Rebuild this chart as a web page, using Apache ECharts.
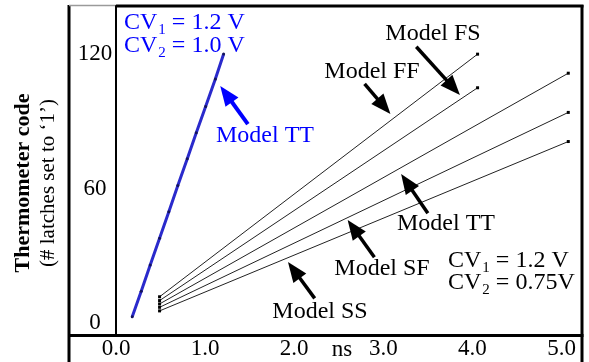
<!DOCTYPE html>
<html>
<head>
<meta charset="utf-8">
<script src="https://cdn.jsdelivr.net/npm/echarts@6.0.0/dist/echarts.min.js"></script>
<style>
  html, body { margin: 0; padding: 0; background: #fff; }
  #chart { width: 589px; height: 362px; }
</style>
</head>
<body>
<div id="chart"></div>
<script>
// --- data ---
var xTicks = [0, 1, 2, 3, 4, 5];
var yTicks = [0, 60, 120];

// blue: Model TT, CV1 = 1.2 V, CV2 = 1.0 V
var blueX = [0.182, 0.283, 0.384, 0.489, 0.593, 0.694, 0.800, 0.901, 1.006, 1.115, 1.208];
var blueY = [2.8, 14.2, 25.9, 37.8, 49.7, 61.4, 73.3, 84.9, 96.6, 108.9, 120.1];

// black: CV1 = 1.2 V, CV2 = 0.75 V (top line to bottom line)
var modelNames = ['FF', 'FS', 'TT', 'SF', 'SS'];
var modelX = [[0.489, 4.058], [0.489, 4.058], [0.489, 5.076], [0.489, 5.076], [0.489, 5.076]];
var modelY = [[11.7, 120], [10.0, 105], [8.5, 111.5], [7.0, 94], [5.4, 81]];

// arrows: [tailX, tailY, tipX, tipY] in data units
var arrowBlue = [1.48, 88.8, 1.17, 105.8];
var arrowsBlack = [
  [3.37, 123.3, 3.86, 101.8],  // FS
  [2.79, 106.7, 3.08, 93.3],   // FF
  [3.50, 49.0, 3.20, 66.5],    // TT
  [2.90, 29.3, 2.60, 46.0],    // SF
  [2.23, 11.0, 1.93, 27.2]     // SS
];

var SERIF = '"Liberation Serif", "Times New Roman", serif';
var BLUE_TXT = '#0000ff';
var BLUE_LINE = '#2a2acc';

function pairs(xs, ys) {
  return xs.map(function (x, i) { return [x, ys[i]]; });
}

var series = [{
  name: 'TT 1.0V',
  type: 'line',
  data: pairs(blueX, blueY),
  symbol: 'circle',
  symbolSize: 3,
  itemStyle: { color: '#14145a' },
  lineStyle: { color: BLUE_LINE, width: 3 },
  z: 3
}];

modelNames.forEach(function (name, i) {
  series.push({
    name: 'Model ' + name,
    type: 'line',
    data: pairs(modelX[i], modelY[i]),
    symbol: 'rect',
    symbolSize: 3,
    itemStyle: { color: '#000' },
    lineStyle: { color: '#222', width: 1 },
    z: 2
  });
});

function cvText(id, x, y, sub, rest, color) {
  var m = { fontSize: 24, fontFamily: SERIF, lineHeight: 24, verticalAlign: 'top', color: color };
  var s = { fontSize: 15, fontFamily: SERIF, lineHeight: 15, verticalAlign: 'top', padding: [12, 0, 0, 1], color: color };
  return {
    type: 'text', id: id, x: x, y: y,
    style: {
      text: '{m|CV}{s|' + sub + '}{m|' + rest + '}',
      rich: { m: m, s: s },
      fill: color,
      align: 'left',
      verticalAlign: 'top'
    }
  };
}

function label(id, x, y, txt, color, size, weight, rot) {
  return {
    type: 'text', id: id, x: x, y: y, rotation: rot || 0,
    style: {
      text: txt,
      fontSize: size,
      fontFamily: SERIF,
      fontWeight: weight || 'normal',
      fill: color,
      align: 'center',
      verticalAlign: 'middle'
    }
  };
}

function hline(id, x1, x2, y, w, c) {
  return { type: 'line', id: id, shape: { x1: x1, y1: y, x2: x2, y2: y }, style: { stroke: c || '#000', lineWidth: w } };
}
function vline(id, x, y1, y2, w, c) {
  return { type: 'line', id: id, shape: { x1: x, y1: y1, x2: x, y2: y2 }, style: { stroke: c || '#000', lineWidth: w } };
}

var graphics = [
  vline('frameL', 69, 5, 362, 3),
  hline('frameTopL', 69, 116, 5.5, 1.5, '#9a9a9a'),
  hline('frameTop', 116, 583.5, 6, 3),
  vline('frameR', 582, 5, 362, 3),
  hline('frameB', 69, 583.5, 335.5, 3),
  label('ttlBold', 23, 183, 'Thermometer code', '#000', 22, 'bold', Math.PI / 2),
  label('ttlNorm', 48, 183, '(# latches set to \u20181\u2019)', '#000', 21, 'normal', Math.PI / 2),
  label('ns', 342, 350, 'ns', '#000', 23),
  label('lblFS', 433, 34, 'Model FS', '#000', 24),
  label('lblFF', 372, 71.5, 'Model FF', '#000', 24),
  label('lblTT', 446, 224, 'Model TT', '#000', 24),
  label('lblSF', 382, 269, 'Model SF', '#000', 24),
  label('lblSS', 320, 311.5, 'Model SS', '#000', 24),
  label('lblTTb', 265, 135.5, 'Model TT', BLUE_TXT, 24),
  cvText('cvB1', 124, 10.5, '1', ' = 1.2 V', BLUE_TXT),
  cvText('cvB2', 124, 33.5, '2', ' = 1.0 V', BLUE_TXT),
  cvText('cvK1', 448, 248.5, '1', ' = 1.2 V', '#000'),
  cvText('cvK2', 448, 270.5, '2', ' = 0.75V', '#000')
];

var option = {
  animation: false,
  backgroundColor: '#fff',
  grid: { left: 116, right: 7, top: 6, bottom: 27, containLabel: false },
  xAxis: {
    type: 'value',
    min: 0,
    max: 5.23,
    axisLine: { show: false },
    axisTick: { show: false },
    splitLine: { show: false },
    axisLabel: {
      customValues: xTicks,
      margin: 2,
      color: '#000',
      fontSize: 23,
      fontFamily: SERIF,
      formatter: function (v) { return v.toFixed(1); }
    }
  },
  yAxis: {
    type: 'value',
    min: -5.36,
    max: 141.5,
    axisLine: { show: true, onZero: false, lineStyle: { color: '#000', width: 2 } },
    axisTick: { show: false },
    splitLine: { show: false },
    axisLabel: {
      customValues: yTicks,
      margin: 21,
      align: 'center',
      color: '#000',
      fontSize: 23,
      fontFamily: SERIF,
      formatter: function (v) { return String(v); }
    }
  },
  series: series,
  graphic: graphics
};

var chart = echarts.init(document.getElementById('chart'), null, { renderer: 'canvas' });
chart.setOption(option);

// arrows: convert data coords to pixels, then draw shaft + solid head
function arrowGraphics(id, a, color, width) {
  var p0 = chart.convertToPixel({ gridIndex: 0 }, [a[0], a[1]]);
  var p1 = chart.convertToPixel({ gridIndex: 0 }, [a[2], a[3]]);
  var dx = p1[0] - p0[0], dy = p1[1] - p0[1];
  var len = Math.sqrt(dx * dx + dy * dy);
  var ux = dx / len, uy = dy / len;
  var headLen = 20, headHalf = 8;
  var bx = p1[0] - ux * headLen, by = p1[1] - uy * headLen;
  return [
    { type: 'line', id: id + 's', shape: { x1: p0[0], y1: p0[1], x2: bx + ux * 2, y2: by + uy * 2 },
      style: { stroke: color, lineWidth: width }, z: 10 },
    { type: 'polygon', id: id + 'h',
      shape: { points: [[p1[0], p1[1]], [bx - uy * headHalf, by + ux * headHalf], [bx + uy * headHalf, by - ux * headHalf]] },
      style: { fill: color }, z: 10 }
  ];
}

var arrowEls = arrowGraphics('arB', arrowBlue, BLUE_TXT, 4);
arrowsBlack.forEach(function (a, i) {
  arrowEls = arrowEls.concat(arrowGraphics('ar' + i, a, '#000', 3.5));
});
chart.setOption({ graphic: arrowEls });
</script>
</body>
</html>
